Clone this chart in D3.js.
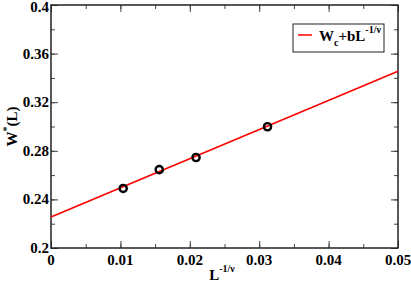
<!DOCTYPE html>
<html>
<head>
<meta charset="utf-8">
<script src="https://cdn.jsdelivr.net/npm/d3@7"></script>
<style>
  body { margin: 0; background: #fff; }
  text { font-family: "Liberation Serif", "Times New Roman", serif; font-weight: bold; }
</style>
</head>
<body>
<svg id="chart" width="411" height="283"></svg>
<script>
// data points and fitted line
const xVals = [0.0104, 0.0156, 0.0209, 0.0312];
const yVals = [0.249, 0.2645, 0.2745, 0.2998];
const fitX = [0, 0.05];
const fitY = [0.2255, 0.3455];
const xTicks = [0, 0.01, 0.02, 0.03, 0.04, 0.05];
const yTicks = [0.2, 0.24, 0.28, 0.32, 0.36, 0.4];

const svg = d3.select("#chart");
const margin = { left: 51, right: 13, top: 5, bottom: 35 };
const W = 411, H = 283;

const x = d3.scaleLinear().domain([0, 0.05]).range([margin.left, W - margin.right]);
const y = d3.scaleLinear().domain([0.2, 0.4]).range([H - margin.bottom, margin.top]);

// minor + major ticks on all four sides, pointing inward
const xMinor = d3.range(0, 0.0501, 0.005);
const yMinor = d3.range(0.2, 0.4001, 0.02);

function tickAxis(axis, ticks, size) {
  return axis.tickValues(ticks).tickSize(size).tickFormat("");
}

svg.append("g").attr("transform", `translate(0,${y(0.2)})`)
  .call(tickAxis(d3.axisTop(x), xMinor, 4));
svg.append("g").attr("transform", `translate(0,${y(0.2)})`)
  .call(tickAxis(d3.axisTop(x), xTicks, 7));
svg.append("g").attr("transform", `translate(0,${y(0.4)})`)
  .call(tickAxis(d3.axisBottom(x), xMinor, 4));
svg.append("g").attr("transform", `translate(0,${y(0.4)})`)
  .call(tickAxis(d3.axisBottom(x), xTicks, 7));
svg.append("g").attr("transform", `translate(${x(0)},0)`)
  .call(tickAxis(d3.axisRight(y), yMinor, 4));
svg.append("g").attr("transform", `translate(${x(0)},0)`)
  .call(tickAxis(d3.axisRight(y), yTicks, 7));
svg.append("g").attr("transform", `translate(${x(0.05)},0)`)
  .call(tickAxis(d3.axisLeft(y), yMinor, 4));
svg.append("g").attr("transform", `translate(${x(0.05)},0)`)
  .call(tickAxis(d3.axisLeft(y), yTicks, 7));

svg.selectAll(".domain").remove();
svg.selectAll(".tick line").attr("stroke", "#444").attr("stroke-width", 1);

// frame
svg.append("rect")
  .attr("x", x(0)).attr("y", y(0.4))
  .attr("width", x(0.05) - x(0)).attr("height", y(0.2) - y(0.4))
  .attr("fill", "none").attr("stroke", "#222").attr("stroke-width", 1.5);

// tick labels
svg.selectAll(".xl").data(xTicks).enter().append("text")
  .attr("x", d => x(d)).attr("y", y(0.2) + 17)
  .attr("text-anchor", "middle").attr("font-size", 15)
  .text(d => d === 0 ? "0" : d3.format(".2f")(d));

svg.selectAll(".yl").data(yTicks).enter().append("text")
  .attr("x", x(0) - 2).attr("y", d => Math.max(y(d) + 5, 12))
  .attr("text-anchor", "end").attr("font-size", 15)
  .text(d => d === 0.2 ? "0.2" : d === 0.4 ? "0.4" : d3.format(".2f")(d));

// axis titles
const xt = svg.append("text")
  .attr("x", 222).attr("y", 280)
  .attr("text-anchor", "middle").attr("font-size", 15);
xt.append("tspan").text("L");
xt.append("tspan").attr("font-size", 10).attr("dy", -8).text("-1/ν");

const yt = svg.append("text")
  .attr("transform", `translate(17,${(y(0.2) + y(0.4)) / 2}) rotate(-90)`)
  .attr("text-anchor", "middle").attr("font-size", 15);
yt.append("tspan").text("W");
yt.append("tspan").attr("font-size", 10).attr("dy", -7).text("*");
yt.append("tspan").attr("dy", 7).text("(L)");

// fit line
const line = d3.line().x(d => x(d[0])).y(d => y(d[1]));
svg.append("path")
  .datum(d3.zip(fitX, fitY))
  .attr("d", line)
  .attr("fill", "none").attr("stroke", "#ff0000").attr("stroke-width", 1.6);

// points
svg.selectAll(".pt").data(d3.zip(xVals, yVals)).enter().append("circle")
  .attr("cx", d => x(d[0])).attr("cy", d => y(d[1])).attr("r", 3.6)
  .attr("fill", "none").attr("stroke", "#000").attr("stroke-width", 2.4);

// legend
const lg = svg.append("g");
lg.append("rect").attr("x", 293).attr("y", 24).attr("width", 91).attr("height", 28)
  .attr("fill", "#fff").attr("stroke", "#222").attr("stroke-width", 1);
lg.append("line").attr("x1", 298).attr("x2", 312).attr("y1", 35).attr("y2", 35)
  .attr("stroke", "#ff0000").attr("stroke-width", 1.5);
const lt = lg.append("text").attr("x", 319).attr("y", 41).attr("font-size", 15);
lt.append("tspan").text("W");
lt.append("tspan").attr("font-size", 10).attr("dy", 5).text("c");
lt.append("tspan").attr("dy", -5).text("+bL");
lt.append("tspan").attr("font-size", 10).attr("dy", -8).text("-1/ν");
</script>
</body>
</html>
